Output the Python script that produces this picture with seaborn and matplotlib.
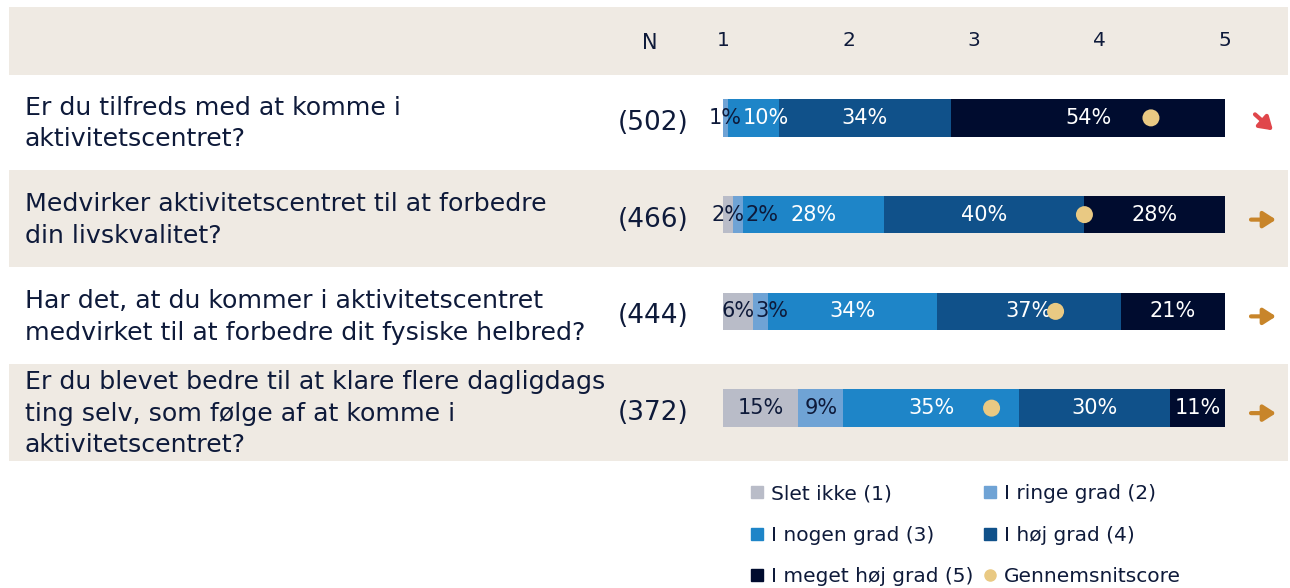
import numpy as np
import pandas as pd
import matplotlib
matplotlib.use("Agg")
import matplotlib.pyplot as plt
import matplotlib.transforms as mtransforms
from matplotlib.patches import Rectangle
from matplotlib.lines import Line2D
import seaborn as sns

# ---------------- data ----------------
questions = [
    "Er du tilfreds med at komme i\naktivitetscentret?",
    "Medvirker aktivitetscentret til at forbedre\ndin livskvalitet?",
    "Har det, at du kommer i aktivitetscentret\nmedvirket til at forbedre dit fysiske helbred?",
    "Er du blevet bedre til at klare flere dagligdags\nting selv, som følge af at komme i\naktivitetscentret?",
]
n_values = [502, 466, 444, 372]
categories = ["Slet ikke (1)", "I ringe grad (2)", "I nogen grad (3)",
              "I høj grad (4)", "I meget høj grad (5)"]
slet_ikke = [0, 2, 6, 15]
ringe_grad = [1, 2, 3, 9]
nogen_grad = [10, 28, 34, 35]
hoej_grad = [34, 40, 37, 30]
meget_hoej_grad = [54, 28, 21, 11]
averages = [4.41, 3.88, 3.65, 3.14]
trends = ["down", "flat", "flat", "flat"]
scale_ticks = [1, 2, 3, 4, 5]
avg_label = "Gennemsnitscore"
n_header = "N"

# ---------------- style ----------------
seg_colors = ["#b9bcc8", "#6fa3d5", "#1e85c8", "#10518a", "#000c2f"]
label_colors = ["#0e1a3a", "#0e1a3a", "white", "white", "white"]
dot_color = "#e9c983"
beige = "#efeae3"
text_color = "#0e1a3a"
trend_colors = {"down": "#e0464b", "flat": "#c8852a"}

sns.set_theme(style="white")
plt.rcParams["font.family"] = ["DejaVu Sans"]

W, H = 1290, 588
fig = plt.figure(figsize=(W / 100, H / 100), dpi=100)
fx = lambda px: px / W
fy = lambda py: 1 - py / H

ax = fig.add_axes([fx(723), fy(456.5), fx(1225) - fx(723), (456.5 - 69.5) / H])
ax.patch.set_visible(False)

series = [slet_ikke, ringe_grad, nogen_grad, hoej_grad, meget_hoej_grad]
vals = np.array(series, dtype=float).T          # rows x categories
totals = vals.sum(axis=1, keepdims=True)
pct = vals / totals * 100
cum = np.cumsum(pct, axis=1)

df = pd.DataFrame({"q": questions})
for k in range(5):
    df[f"cum{k}"] = cum[:, k]

for k in reversed(range(5)):
    sns.barplot(data=df, y="q", x=f"cum{k}", orient="h", color=seg_colors[k],
                width=0.39, edgecolor="none", linewidth=0, saturation=1, ax=ax)

ax.set_xlim(0, 100)
ax.set_xticks([])
ax.set_yticks([])
ax.set_xlabel("")
ax.set_ylabel("")
for s in ax.spines.values():
    s.set_visible(False)

# average dots on a 1-5 scale
ax2 = ax.twiny()
sns.scatterplot(x=averages, y=list(range(len(questions))), color=dot_color, s=150,
                edgecolor="none", zorder=5, ax=ax2, legend=False)
ax2.set_xlim(1, 5)
ax2.set_xticks(scale_ticks)
ax2.set_xticklabels([str(t) for t in scale_ticks])
ax2.xaxis.set_ticks_position("top")
ax2.tick_params(axis="x", length=0, pad=14, labelsize=14.5, labelcolor=text_color)
ax2.set_xlabel("")
ax2.set_ylabel("")
for s in ax2.spines.values():
    s.set_visible(False)
ax.set_ylim(len(questions) - 0.5, -0.5)

# transforms: figure x, data y (with small pixel offset)
blend = mtransforms.blended_transform_factory(fig.transFigure, ax.transData)
def row_tf(dx_px=0.0, dy_px=0.0):
    return blend + mtransforms.ScaledTranslation(dx_px / 100, dy_px / 100, fig.dpi_scale_trans)

# background bands
fig.add_artist(Rectangle((fx(9), fy(75)), fx(1288) - fx(9), (75 - 7) / H,
                         transform=fig.transFigure, color=beige, zorder=-1, lw=0))
for i in range(len(questions)):
    if i % 2 == 1:
        fig.add_artist(Rectangle((fx(9), i - 0.5), fx(1288) - fx(9), 1,
                                 transform=row_tf(0, -4), color=beige, zorder=-1, lw=0))

fig.text(fx(650), fy(43), n_header, ha="center", va="center", fontsize=15, color=text_color)

# question texts, N values, trend arrows
for i, q in enumerate(questions):
    fig.text(fx(25), i, q, transform=row_tf(0, -5.5), ha="left", va="center",
             fontsize=18.2, color=text_color, linespacing=1.4)
    fig.text(fx(688), i, f"({n_values[i]})", transform=row_tf(0, -5), ha="right",
             va="center", fontsize=19, color=text_color)
    c = trend_colors[trends[i]]
    if trends[i] == "down":
        start, end = (fx(1255), i), (fx(1273), i)
        tf_s, tf_e = row_tf(0, -4.5 + 8), row_tf(0, -4.5 - 8)
    else:
        start, end = (fx(1251), i), (fx(1276), i)
        tf_s, tf_e = row_tf(0, -5), row_tf(0, -5)
    ax.annotate("", xy=end, xycoords=tf_e, xytext=start, textcoords=tf_s,
                arrowprops=dict(arrowstyle="-|>,head_length=0.5,head_width=0.32",
                                lw=3, color=c, shrinkA=0, shrinkB=0,
                                mutation_scale=15), annotation_clip=False)

# percentage labels with simple overlap avoidance
fig.canvas.draw()
renderer = fig.canvas.get_renderer()
ax_w_px = ax.get_window_extent(renderer).width
for i in range(len(questions)):
    prev_x1 = None
    for k in range(5):
        v = vals[i, k]
        if v <= 0:
            continue
        left = cum[i, k] - pct[i, k]
        cx = left + pct[i, k] / 2
        t = ax.text(cx, i, f"{int(v)}%", ha="center", va="center", fontsize=15,
                    color=label_colors[k], zorder=6)
        bb = t.get_window_extent(renderer)
        if prev_x1 is not None and bb.x0 < prev_x1 + 1:
            shift = prev_x1 + 1 - bb.x0
            t.set_x(cx + shift / ax_w_px * 100)
            bb = t.get_window_extent(renderer)
        prev_x1 = bb.x1

# legend
sq = [Line2D([], [], marker="s", ls="", color=c, markersize=9) for c in seg_colors]
dot = Line2D([], [], marker="o", ls="", color=dot_color, markersize=8)
handles = [sq[0], sq[2], sq[4], sq[1], sq[3], dot]
labels = [categories[0], categories[2], categories[4], categories[1], categories[3], avg_label]
fig.legend(handles, labels, ncol=2, loc="upper left", bbox_to_anchor=(fx(749), fy(484)),
           frameon=False, fontsize=14.5, handlelength=0.8, handletextpad=0.3,
           columnspacing=0.4, labelspacing=1.12, labelcolor=text_color,
           borderaxespad=0, borderpad=0)

fig.savefig("out.png", dpi=100)
